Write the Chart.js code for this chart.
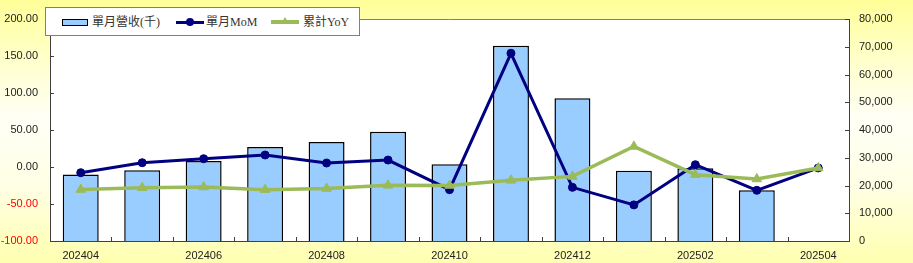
<!DOCTYPE html>
<html>
<head>
<meta charset="utf-8">
<script src="https://cdn.jsdelivr.net/npm/chart.js@4.4.1/dist/chart.umd.min.js"></script>
<style>
  html, body { margin: 0; padding: 0; }
  body { width: 913px; height: 263px; overflow: hidden; position: relative;
    background: linear-gradient(to bottom, #FFFF99 0%, #FFFFD0 25%, #FFFFF6 45%, #FFFFE6 70%, #FFFFB0 100%); }
  #wrap { position: absolute; left: 0; top: 0; width: 913px; height: 263px; }
  #legend { position: absolute; left: 45px; top: 7px; width: 313px; height: 27px; background: #fff;
    border: 1px solid #808080; font-family: "Liberation Serif", "Noto Sans CJK TC", serif; font-size: 12px; color: #333; }
  #legend .t { position: absolute; top: 6px; line-height: 16px; white-space: nowrap; }
  #legend .sw { position: absolute; }
</style>
</head>
<body>
<div id="wrap"><canvas id="c" width="913" height="263"></canvas></div>
<div id="legend">
  <div class="sw" style="left:16px;top:11px;width:24px;height:5px;background:#99CCFF;border:1px solid #000;"></div>
  <div class="t" style="left:46px;">單月營收(千)</div>
  <div class="sw" style="left:130px;top:13px;width:28px;height:3px;background:#000080;"></div>
  <div class="sw" style="left:140px;top:10px;width:8px;height:8px;border-radius:50%;background:#000080;"></div>
  <div class="t" style="left:160px;">單月MoM</div>
  <div class="sw" style="left:225px;top:12px;width:28px;height:4px;background:#9BBB59;"></div>
  <div class="sw" style="left:235px;top:9px;width:0;height:0;border-left:4px solid transparent;border-right:4px solid transparent;border-bottom:7px solid #9BBB59;"></div>
  <div class="t" style="left:257px;">累計YoY</div>
</div>
<script>
const categories = ['202404','202405','202406','202407','202408','202409','202410','202411','202412','202501','202502','202503','202504'];
const revenue = [24000, 25500, 28800, 33900, 35700, 39400, 27700, 70400, 51400, 25300, 26200, 18300, null];
const mom = [-7.7, 5.8, 11.2, 16.2, 5.4, 9.4, -30.6, 153.7, -27.5, -51.2, 3.1, -31.5, -1.3];
const yoy = [-30.5, -28.0, -27.0, -30.6, -29.0, -24.8, -25.0, -18.0, -12.7, 27.8, -10.4, -16.2, -1.3];
const leftTicks = [-100, -50, 0, 50, 100, 150, 200];
const rightTicks = [0, 10000, 20000, 30000, 40000, 50000, 60000, 70000, 80000];

const axisColor = '#404040';
const labelFont = { family: '"Liberation Sans", Arial, sans-serif', size: 11 };

const plotBg = {
  id: 'plotBg',
  beforeDraw(chart) {
    const a = chart.chartArea, ctx = chart.ctx;
    ctx.save();
    ctx.fillStyle = '#ffffff';
    ctx.fillRect(a.left, a.top, a.right - a.left, a.bottom - a.top);
    ctx.strokeStyle = '#808080';
    ctx.lineWidth = 1;
    ctx.beginPath();
    ctx.moveTo(a.left, a.top + 0.5);
    ctx.lineTo(a.right, a.top + 0.5);
    ctx.stroke();
    ctx.restore();
  },
  afterDatasetsDraw(chart) {
    const ctx = chart.ctx, a = chart.chartArea;
    const yl = chart.scales.yL, yr = chart.scales.yR, x = chart.scales.x;
    ctx.save();
    ctx.strokeStyle = axisColor;
    ctx.lineWidth = 1;
    ctx.beginPath();
    leftTicks.forEach(v => { const p = Math.round(yl.getPixelForValue(v)) + 0.5; ctx.moveTo(a.left, p); ctx.lineTo(a.left + 4, p); });
    rightTicks.forEach(v => { const p = Math.round(yr.getPixelForValue(v)) + 0.5; ctx.moveTo(a.right - 4, p); ctx.lineTo(a.right, p); });
    for (let i = 1; i < categories.length; i++) {
      const p = Math.round((x.getPixelForValue(i - 1) + x.getPixelForValue(i)) / 2) + 0.5;
      ctx.moveTo(p, a.bottom - 4); ctx.lineTo(p, a.bottom);
    }
    ctx.stroke();
    ctx.restore();
  }
};

new Chart(document.getElementById('c'), {
  data: {
    labels: categories,
    datasets: [
      { type: 'line', label: '累計YoY', data: yoy, yAxisID: 'yL', order: 1,
        borderColor: '#9BBB59', backgroundColor: '#9BBB59', borderWidth: 3.5, tension: 0,
        pointStyle: 'triangle', pointRadius: 5.5, pointBorderWidth: 1, pointBorderColor: '#9BBB59' },
      { type: 'line', label: '單月MoM', data: mom, yAxisID: 'yL', order: 2,
        borderColor: '#000080', backgroundColor: '#000080', borderWidth: 3, tension: 0,
        pointStyle: 'circle', pointRadius: 4, pointBorderWidth: 1, pointBorderColor: '#000080' },
      { type: 'bar', label: '單月營收(千)', data: revenue, yAxisID: 'yR', order: 3,
        backgroundColor: '#99CCFF', borderColor: '#000000', borderWidth: 1.5,
        barPercentage: 0.585, categoryPercentage: 1.0 }
    ]
  },
  options: {
    responsive: false,
    animation: false,
    events: [],
    layout: { padding: { top: 19, left: 0, right: 0, bottom: 0 } },
    plugins: { legend: { display: false }, tooltip: { enabled: false } },
    scales: {
      x: {
        offset: true,
        grid: { display: false, drawTicks: false },
        border: { display: true, color: axisColor, width: 1 },
        ticks: {
          autoSkip: false, maxRotation: 0, minRotation: 0, padding: 8,
          color: '#222', font: labelFont,
          callback: function (v, i) { return i % 2 === 0 ? categories[i] : ''; }
        },
        afterFit(s) { s.height = 22; }
      },
      yL: {
        position: 'left', min: -100, max: 200,
        grid: { display: false, drawTicks: false },
        border: { display: true, color: axisColor, width: 1 },
        afterBuildTicks(s) { s.ticks = leftTicks.map(v => ({ value: v })); },
        ticks: {
          padding: 12, font: labelFont,
          color: (c) => (c.tick && c.tick.value < 0 ? '#FF0000' : '#222'),
          callback: (v) => v.toFixed(2)
        },
        afterFit(s) { s.width = 50; }
      },
      yR: {
        position: 'right', min: 0, max: 80000,
        grid: { display: false, drawTicks: false },
        border: { display: true, color: axisColor, width: 1 },
        afterBuildTicks(s) { s.ticks = rightTicks.map(v => ({ value: v })); },
        ticks: {
          padding: 10, font: labelFont, color: '#222',
          callback: (v) => v.toLocaleString('en-US')
        },
        afterFit(s) { s.width = 64; }
      }
    }
  },
  plugins: [plotBg]
});
</script>
</body>
</html>
